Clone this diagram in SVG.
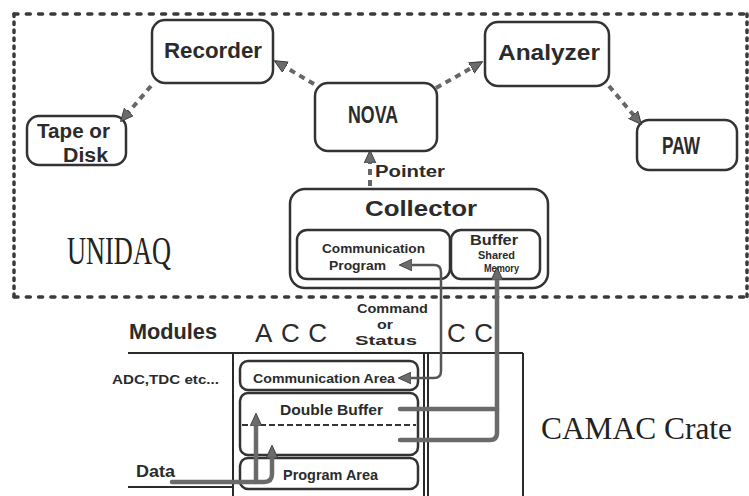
<svg xmlns="http://www.w3.org/2000/svg" width="749" height="496" viewBox="0 0 749 496">
  <style>
    .box { fill: none; stroke: #333; stroke-width: 2.5; }
    .rule { fill: none; stroke: #2a2a2a; stroke-width: 2; }
    .lbl { font-family: "Liberation Sans", "DejaVu Sans", sans-serif; font-weight: bold; fill: #2b2b2b; }
    .serif { font-family: "Liberation Serif", "DejaVu Serif", serif; fill: #222; }
    .big { font-family: "Liberation Sans", "DejaVu Sans", sans-serif; fill: #2b2b2b; font-size: 26px; }
    .frameH { fill: none; stroke: #3a3a3a; stroke-width: 3.5; stroke-linecap: round; stroke-dasharray: 4 8.3; }
    .frameV { fill: none; stroke: #3a3a3a; stroke-width: 3.5; stroke-linecap: round; stroke-dasharray: 2.5 5.5; }
    .flow { fill: none; stroke: #666; stroke-width: 4; stroke-dasharray: 6 5; }
    .pipe { fill: none; stroke: #6a6a6a; stroke-width: 4.5; stroke-linecap: round; }
    .cmd { fill: none; stroke: #555; stroke-width: 2.5; }
  </style>
  <defs>
    <marker id="ah" viewBox="0 0 12 12" refX="3" refY="6" markerWidth="13" markerHeight="13" markerUnits="userSpaceOnUse" orient="auto-start-reverse">
      <path d="M0,0.5 L12,6 L0,11.5 Z" fill="#6b6b6b" stroke="#333" stroke-width="0.8"/>
    </marker>
  </defs>

  <!-- UNIDAQ frame -->
  <g id="unidaq-frame">
    <line class="frameH" x1="14" y1="14" x2="747" y2="14"/>
    <line class="frameH" x1="14" y1="297" x2="747" y2="297"/>
    <line class="frameV" x1="14" y1="14" x2="14" y2="297"/>
    <line class="frameV" x1="747" y1="14" x2="747" y2="297"/>
    <text class="serif" x="67" y="264" font-size="39" textLength="104" lengthAdjust="spacingAndGlyphs">UNIDAQ</text>
  </g>

  <!-- CAMAC crate outline -->
  <g id="camac-crate">
    <line class="rule" x1="128" y1="353" x2="523" y2="353"/>
    <line class="rule" x1="233" y1="353" x2="233" y2="496"/>
    <line class="rule" x1="424" y1="353" x2="424" y2="496" stroke-width="1.6"/>
    <line class="rule" x1="428" y1="353" x2="428" y2="496" stroke-width="1.6"/>
    <line class="rule" x1="523" y1="353" x2="523" y2="496"/>
    <line class="rule" x1="128" y1="487" x2="233" y2="487"/>
    <text class="lbl" x="129" y="339" font-size="22" textLength="88" lengthAdjust="spacingAndGlyphs">Modules</text>
    <text class="big" x="255" y="342" textLength="72">ACC</text>
    <text class="big" x="447" y="342" textLength="46">CC</text>
    <text class="lbl" x="112" y="384" font-size="13" textLength="107" lengthAdjust="spacingAndGlyphs">ADC,TDC etc...</text>
    <text class="serif" x="541" y="439" font-size="32" textLength="191" lengthAdjust="spacingAndGlyphs">CAMAC Crate</text>
    <text class="lbl" x="136" y="477" font-size="17" textLength="39" lengthAdjust="spacingAndGlyphs">Data</text>
  </g>

  <g id="recorder">
    <rect class="box" x="152" y="20" width="121" height="63" rx="13"/>
    <text class="lbl" x="213" y="58" font-size="22" text-anchor="middle" textLength="98" lengthAdjust="spacingAndGlyphs">Recorder</text>
  </g>
  <g id="tape-or-disk">
    <rect class="box" x="27" y="116" width="99" height="49" rx="12"/>
    <text class="lbl" x="37" y="138" font-size="20" textLength="73" lengthAdjust="spacingAndGlyphs">Tape or</text>
    <text class="lbl" x="63" y="162" font-size="20" textLength="45" lengthAdjust="spacingAndGlyphs">Disk</text>
  </g>
  <g id="nova">
    <rect class="box" x="315" y="83" width="122" height="68" rx="13"/>
    <text class="lbl" x="373" y="123" font-size="24" text-anchor="middle" textLength="50" lengthAdjust="spacingAndGlyphs">NOVA</text>
  </g>
  <g id="analyzer">
    <rect class="box" x="485" y="22" width="124" height="64" rx="13"/>
    <text class="lbl" x="549" y="60" font-size="22" text-anchor="middle" textLength="102" lengthAdjust="spacingAndGlyphs">Analyzer</text>
  </g>
  <g id="paw">
    <rect class="box" x="637" y="120" width="100" height="50" rx="12"/>
    <text class="lbl" x="681" y="154" font-size="23" text-anchor="middle" textLength="38" lengthAdjust="spacingAndGlyphs">PAW</text>
  </g>

  <g id="collector">
    <rect class="box" x="290" y="189" width="258" height="99" rx="15"/>
    <text class="lbl" x="365" y="216" font-size="22" textLength="112" lengthAdjust="spacingAndGlyphs">Collector</text>
  </g>
  <g id="communication-program">
    <rect class="box" x="297" y="230" width="153" height="49" rx="10"/>
    <text class="lbl" x="322" y="253" font-size="13.5" textLength="103" lengthAdjust="spacingAndGlyphs">Communication</text>
    <text class="lbl" x="329" y="270" font-size="13.5" textLength="57" lengthAdjust="spacingAndGlyphs">Program</text>
  </g>
  <g id="shared-buffer">
    <rect class="box" x="451" y="230" width="89" height="49" rx="10"/>
    <text class="lbl" x="470" y="245" font-size="14" textLength="48" lengthAdjust="spacingAndGlyphs">Buffer</text>
    <text class="lbl" x="478" y="259" font-size="11" textLength="37" lengthAdjust="spacingAndGlyphs">Shared</text>
    <text class="lbl" x="484" y="272" font-size="11" textLength="35" lengthAdjust="spacingAndGlyphs">Memory</text>
  </g>

  <g id="communication-area">
    <rect class="box" x="240" y="361" width="178" height="29" rx="8"/>
    <text class="lbl" x="253" y="383" font-size="13" textLength="142" lengthAdjust="spacingAndGlyphs">Communication Area</text>
  </g>
  <g id="double-buffer">
    <rect class="box" x="240" y="393" width="178" height="62" rx="8"/>
    <line x1="242" y1="425" x2="416" y2="425" stroke="#333" stroke-width="2" stroke-dasharray="6 3"/>
    <text class="lbl" x="280" y="415" font-size="14" textLength="103" lengthAdjust="spacingAndGlyphs">Double Buffer</text>
  </g>
  <g id="program-area">
    <rect class="box" x="240" y="458" width="178" height="31" rx="8"/>
    <text class="lbl" x="283" y="480" font-size="14" textLength="95" lengthAdjust="spacingAndGlyphs">Program Area</text>
  </g>

  <g id="command-label">
    <text class="lbl" x="357" y="313" font-size="13.5" textLength="71" lengthAdjust="spacingAndGlyphs">Command</text>
    <text class="lbl" x="377" y="329" font-size="13.5" textLength="16" lengthAdjust="spacingAndGlyphs">or</text>
    <text class="lbl" x="355" y="345" font-size="13.5" textLength="62" lengthAdjust="spacingAndGlyphs">Status</text>
  </g>

  <g id="connectors">
    <line class="flow" x1="314" y1="84" x2="282.7" y2="65.6" marker-end="url(#ah)"/>
    <line class="flow" x1="151" y1="86" x2="126.9" y2="114.2" marker-end="url(#ah)"/>
    <line class="flow" x1="436" y1="88" x2="474.2" y2="66.4" marker-end="url(#ah)"/>
    <line class="flow" x1="609" y1="86" x2="635.2" y2="117.1" marker-end="url(#ah)"/>
    <line class="flow" x1="370" y1="186" x2="370" y2="160" stroke-dasharray="5 4" marker-end="url(#ah)"/>
    <text class="lbl" x="375" y="177" font-size="16" textLength="70" lengthAdjust="spacingAndGlyphs">Pointer</text>

    <!-- command / status between collector program and communication area -->
    <path class="cmd" d="M409,265 H434 Q441,265 441,272 V371 Q441,378 434,378 H408" marker-start="url(#ah)" marker-end="url(#ah)"/>

    <!-- double buffer halves to shared memory -->
    <path class="pipe" d="M400,409 H497"/>
    <path class="pipe" d="M400,440 H490 Q497,440 497,433 V277" stroke-linecap="butt" marker-end="url(#ah)"/>

    <!-- data into the double buffer -->
    <path class="pipe" d="M172,482 H264 Q272,482 272,474 V455" stroke-linecap="butt" marker-end="url(#ah)"/>
    <path class="pipe" d="M256,482 V423" stroke-linecap="butt" marker-end="url(#ah)"/>
  </g>
</svg>
